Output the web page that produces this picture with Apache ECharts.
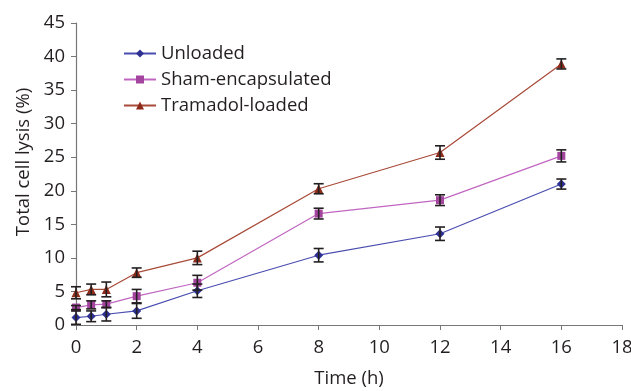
<!DOCTYPE html>
<html><head><meta charset="utf-8">
<script src="https://cdn.jsdelivr.net/npm/echarts@6/dist/echarts.min.js"></script>
<style>html,body{margin:0;padding:0;background:#fff}#c{width:631px;height:391px}</style>
</head><body><div id="c"></div>
<script>
var times = [0, 0.5, 1, 2, 4, 8, 12, 16];
var unloaded = [1.1, 1.3, 1.6, 2.1, 5.1, 10.4, 13.6, 21.0];
var unloadedErr = [1.0, 0.8, 1.0, 1.1, 1.0, 1.0, 1.0, 0.75];
var sham = [2.6, 3.0, 3.1, 4.3, 6.3, 16.6, 18.6, 25.2];
var shamErr = [0.3, 0.6, 0.5, 1.0, 1.1, 0.8, 0.8, 0.9];
var tramadol = [4.8, 5.3, 5.3, 7.8, 10.0, 20.3, 25.7, 38.9];
var tramadolErr = [0.9, 0.8, 1.1, 0.7, 1.0, 0.75, 1.0, 0.75];
var seriesNames = ['Unloaded', 'Sham-encapsulated', 'Tramadol-loaded'];
var xTicks = [0, 2, 4, 6, 8, 10, 12, 14, 16, 18];

var FONT = 'Open Sans';
var FS = 18.5;
var TXT = '#231f20';

function pts(vals) { return times.map(function (t, i) { return [t, vals[i]]; }); }
function errs(vals, e) { return times.map(function (t, i) { return [t, vals[i] - e[i], vals[i] + e[i]]; }); }

function errorSeries(vals, e) {
  return {
    type: 'custom',
    z: 5,
    silent: true,
    data: errs(vals, e),
    renderItem: function (params, api) {
      var x = api.value(0);
      var lo = api.coord([x, api.value(1)]);
      var hi = api.coord([x, api.value(2)]);
      var w = 5;
      var st = { stroke: '#231f20', lineWidth: 1.6 };
      return {
        type: 'group',
        children: [
          { type: 'line', shape: { x1: lo[0], y1: lo[1], x2: hi[0], y2: hi[1] }, style: st },
          { type: 'line', shape: { x1: lo[0] - w, y1: lo[1], x2: lo[0] + w, y2: lo[1] }, style: st },
          { type: 'line', shape: { x1: hi[0] - w, y1: hi[1], x2: hi[0] + w, y2: hi[1] }, style: st }
        ]
      };
    }
  };
}

function lineSeries(name, vals, color, lineColor, symbol, size) {
  return {
    name: name, type: 'line', data: pts(vals), symbol: symbol, symbolSize: size,
    itemStyle: { color: color }, lineStyle: { color: lineColor, width: 1.2 },
    emphasis: { disabled: true }, z: 3
  };
}

var chart = echarts.init(document.getElementById('c'));
chart.setOption({
  animation: false,
  backgroundColor: '#fff',
  grid: { left: 76, right: 9, top: 23, bottom: 66, outerBoundsMode: 'none', containLabel: false },
  legend: {
    data: seriesNames, orient: 'vertical', left: 118, top: 39, itemGap: 7,
    itemWidth: 32, itemHeight: 10,
    textStyle: { fontFamily: FONT, fontSize: FS, color: TXT }
  },
  xAxis: {
    type: 'value', min: 0, max: 18, interval: 2,
    name: 'Time (h)', nameLocation: 'middle', nameGap: 44,
    nameTextStyle: { fontFamily: FONT, fontSize: FS, color: TXT },
    axisLine: { lineStyle: { color: '#777', width: 1.2 } },
    axisTick: { show: true, length: 5, lineStyle: { color: '#777' } },
    axisLabel: { fontFamily: FONT, fontSize: FS, color: TXT, margin: 13,
      formatter: function (v) { return xTicks.indexOf(v) >= 0 ? String(v) : ''; } },
    splitLine: { show: false }
  },
  yAxis: {
    type: 'value', min: 0, max: 45, interval: 5,
    name: 'Total cell lysis (%)', nameLocation: 'middle', nameGap: 42,
    nameTextStyle: { fontFamily: FONT, fontSize: FS, color: TXT, padding: [0, 0, 0, 24] },
    axisLine: { show: true, lineStyle: { color: '#777', width: 1.2 } },
    axisTick: { show: true, length: 5, lineStyle: { color: '#777' } },
    axisLabel: { fontFamily: FONT, fontSize: FS, color: TXT, margin: 11 },
    splitLine: { show: false }
  },
  series: [
    lineSeries('Unloaded', unloaded, '#2e3192', '#4a4db0', 'diamond', 9),
    lineSeries('Sham-encapsulated', sham, '#a3449e', '#c066c0', 'rect', 8),
    lineSeries('Tramadol-loaded', tramadol, '#8e2c1c', '#a84a38', 'triangle', 9),
    errorSeries(unloaded, unloadedErr),
    errorSeries(sham, shamErr),
    errorSeries(tramadol, tramadolErr)
  ]
});
</script></body></html>
